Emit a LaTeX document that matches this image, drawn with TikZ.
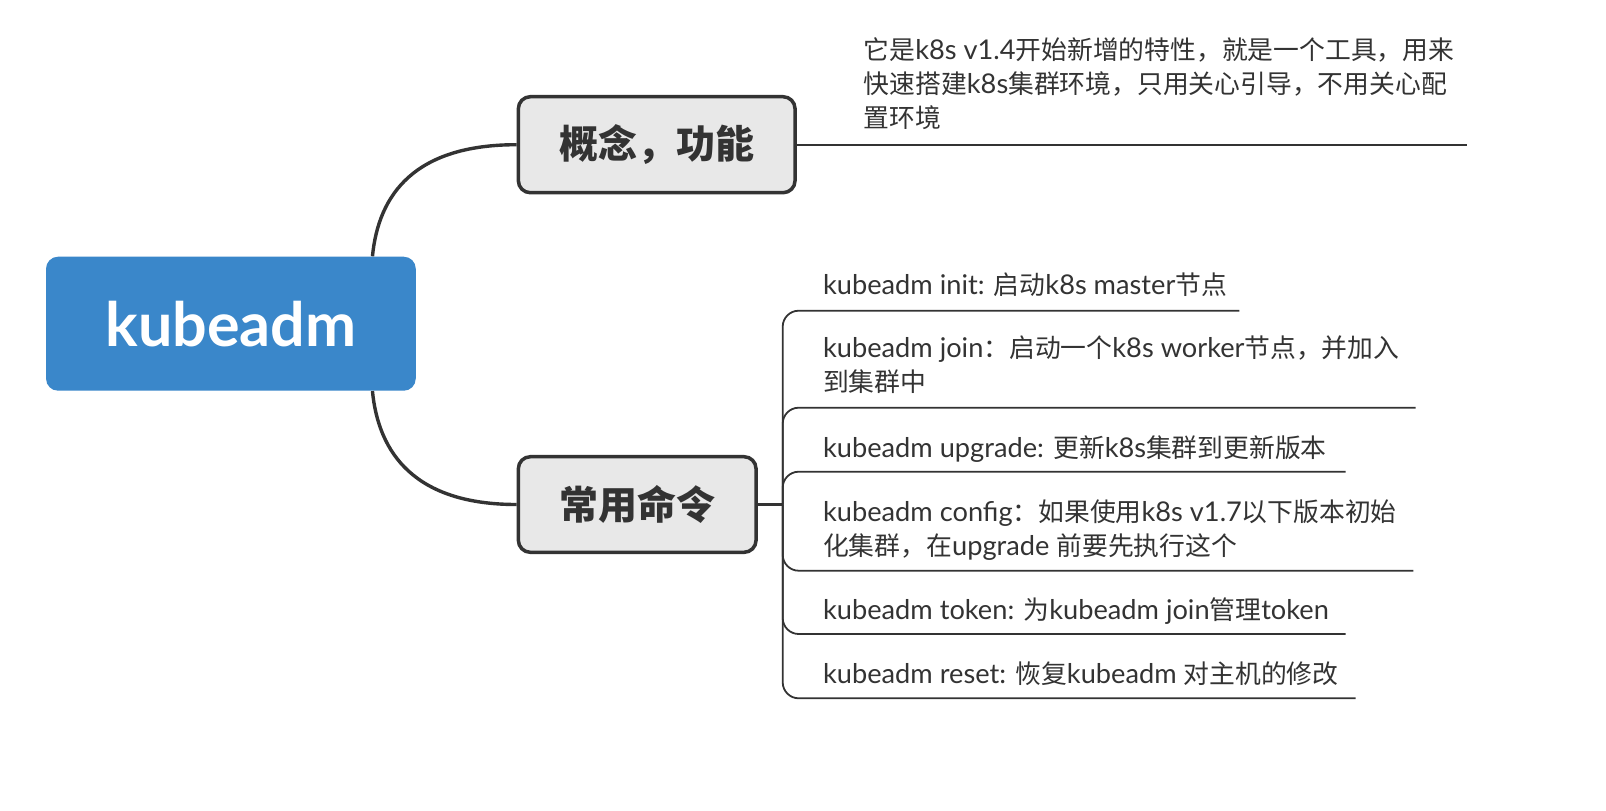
\documentclass[tikz,border=0pt]{standalone}
\usepackage{fontspec}
\setmainfont{Lato}
\newfontfamily\zhfont[Scale=0.9485]{Noto Sans CJK SC}
\newfontfamily\zhbig{Noto Sans CJK SC}
\newcommand\zh[1]{{\zhfont #1}}
\definecolor{linec}{HTML}{333333}
\definecolor{boxgray}{HTML}{E8E8E8}
\definecolor{rootblue}{RGB}{58,135,202}
\begin{document}
\begin{tikzpicture}[x=0.5pt,y=-0.5pt,
  rootbox/.style={fill=rootblue, rounded corners=6pt, minimum width=184.85pt, minimum height=67pt, inner sep=0pt, text=white, font=\fontsize{30.5}{32}\selectfont\bfseries},
  topicbox/.style={draw=linec, line width=1.75pt, fill=boxgray, rounded corners=6pt, inner sep=0pt, text=linec, font=\zhbig\bfseries\fontsize{19.5}{22}\selectfont},
  itemtext/.style={anchor=base west, inner sep=0pt, text=linec, font=\fontsize{13.6}{17.25}\selectfont},
  concepttext/.style={anchor=base west, inner sep=0pt, text=linec, font=\fontsize{13.6}{17}\selectfont},
  branch/.style={draw=linec, line width=1.7pt},
  stem/.style={draw=linec, line width=1.35pt},
  bus/.style={draw=linec, line width=0.9pt, rounded corners=8pt},
  cline/.style={draw=linec, line width=1pt}
]
\useasboundingbox (0,0) rectangle (1606,810);
\fill[white] (0,0) rectangle (1606,810);

% nodes
\node[rootbox] (root) at (230.9,323.7) {kubeadm};
\node[topicbox, minimum width=138.35pt, minimum height=48pt] (concept) at (656.7,144.7) {概念，功能};
\node[topicbox, minimum width=118.85pt, minimum height=47.8pt] (cmd) at (637.2,504.5) {常用命令};

% concept text
\node[concepttext] (ctext) at (863.3,59.5) {\vtop{%
  \hbox{\zh{它是}k8s v1.4\zh{开始新增的特性，就是一个工具，用来}}%
  \hbox{\zh{快速搭建}k8s\zh{集群环境，只用关心引导，不用关心配}}%
  \hbox{\zh{置环境}}}};

% command items
\node[itemtext] (i1) at (822.7,294.7) {kubeadm init: \zh{启动}k8s master\zh{节点}};
\node[itemtext] (i2) at (822.7,357) {\vtop{%
  \hbox{kubeadm join\zh{：启动一个}k8s worker\zh{节点，并加入}}%
  \hbox{\zh{到集群中}}}};
\node[itemtext] (i3) at (822.7,457.7) {kubeadm upgrade: \zh{更新}k8s\zh{集群到更新版本}};
\node[itemtext] (i4) at (822.7,521.4) {\vtop{%
  \hbox{kubeadm config\zh{：如果使用}k8s v1.7\zh{以下版本初始}}%
  \hbox{\zh{化集群，在}upgrade \zh{前要先执行这个}}}};
\node[itemtext] (i5) at (822.7,619) {kubeadm token: \zh{为}kubeadm join\zh{管理}token};
\node[itemtext] (i6) at (822.7,683) {kubeadm reset: \zh{恢复}kubeadm \zh{对主机的修改}};

% coordinates
\coordinate (j) at (cmd.east -| 782.7,0);
\coordinate (cend) at (concept.east -| 1467.3,0);
\coordinate (u1) at (1239.3,310.7);
\coordinate (u2) at (1415.7,407.7);
\coordinate (u3) at (1345.7,471.7);
\coordinate (u4) at (1413.3,570.7);
\coordinate (u5) at (1345.7,634);
\coordinate (u6) at (1355.7,698.3);

% connectors
\draw[branch] ([xshift=-21.85pt]root.north east) .. controls +(6,-62) and +(-102,0) .. (concept.west);
\draw[branch] ([xshift=-21.85pt]root.south east) .. controls +(6,62) and +(-102,0) .. (cmd.west);
\draw[cline] (concept.east) -- (cend);
\draw[stem] (cmd.east) -- (j);
\foreach \u in {u1,u2,u3,u4,u5,u6}{\draw[bus] (j) |- (\u);}
\end{tikzpicture}
\end{document}
